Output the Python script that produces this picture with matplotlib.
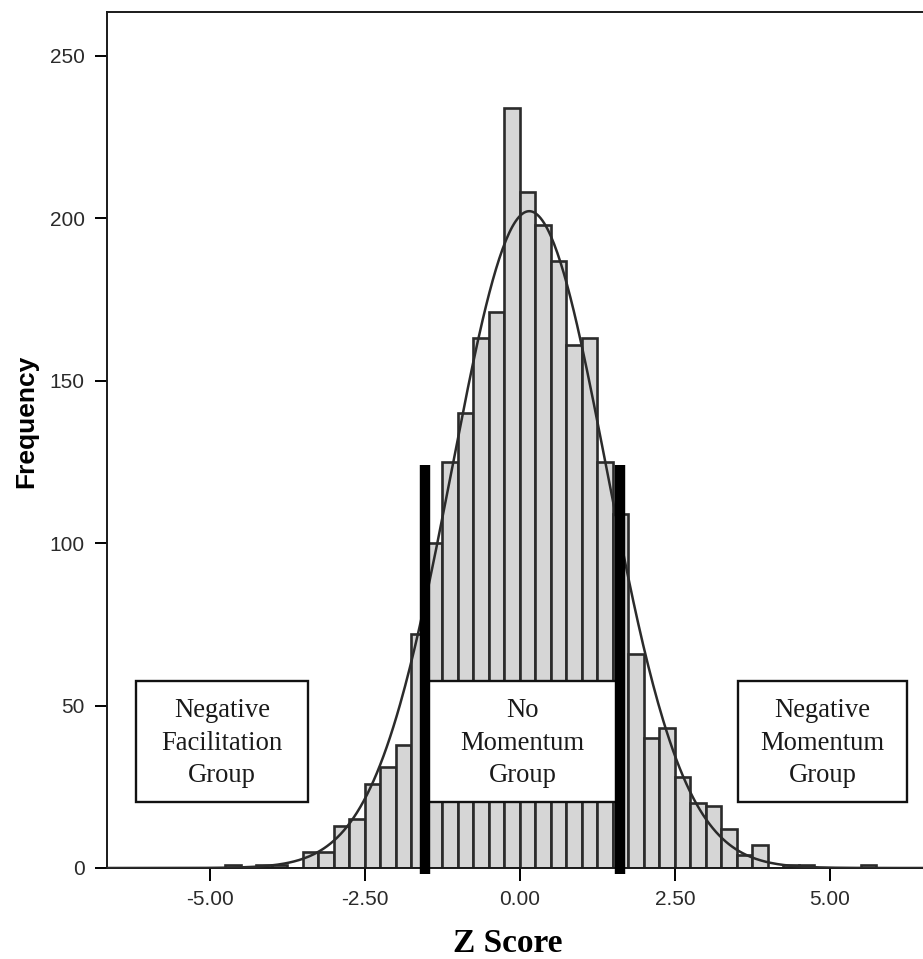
import numpy as np
import matplotlib
matplotlib.use("Agg")
import matplotlib.pyplot as plt
from matplotlib.patches import Rectangle

# histogram of z scores, bins of 0.25 starting at -4.75
bin_starts = np.arange(-4.75, 5.75, 0.25)
counts = [1, 0, 1, 1, 0, 5, 5, 13, 15, 26,
          31, 38, 72, 100, 125, 140, 163, 171, 234, 208,
          198, 187, 161, 163, 125, 109, 66, 40, 43, 28,
          20, 19, 12, 4, 7, 0, 1, 1, 0, 0,
          0, 1]
bin_width = 0.25

# fitted normal curve
curve_mean = 0.15
curve_sd = 1.25

# cut-offs for the groups
cut_low = -1.53
cut_high = 1.61
cut_top = 124

x_ticks = [-5.0, -2.5, 0.0, 2.5, 5.0]
y_ticks = [0, 50, 100, 150, 200, 250]

groups = ["Negative\nFacilitation\nGroup", "No\nMomentum\nGroup", "Negative\nMomentum\nGroup"]
group_x = [(-6.19, -3.42), (-1.50, 1.58), (3.52, 6.24)]
group_y = (20.3, 57.5)

fig = plt.figure(figsize=(9.23, 9.59), dpi=100)
ax = fig.add_axes([0.116, 0.0949, 0.8947, 0.8926])

ax.bar(bin_starts, counts, width=bin_width, align="edge",
       color="#d6d6d6", edgecolor="#2b2b2b", linewidth=1.9, zorder=2)

n_total = sum(counts)
xs = np.linspace(-6.66, 6.66, 500)
ys = n_total * bin_width / (curve_sd * np.sqrt(2 * np.pi)) * np.exp(-(xs - curve_mean) ** 2 / (2 * curve_sd ** 2))
ax.plot(xs, ys, color="#2b2b2b", linewidth=1.8, zorder=3)

for gx, label in zip(group_x, groups):
    rect = Rectangle((gx[0], group_y[0]), gx[1] - gx[0], group_y[1] - group_y[0],
                     facecolor="white", edgecolor="#111111", linewidth=1.7, zorder=4)
    ax.add_patch(rect)
    ax.text((gx[0] + gx[1]) / 2, (group_y[0] + group_y[1]) / 2 - 0.5, label,
            ha="center", va="center", fontsize=19.2, family="Liberation Serif",
            color="#1a1a1a", linespacing=1.4, zorder=5)

for cx in [cut_low, cut_high]:
    ax.plot([cx, cx], [-1.7, cut_top], color="black", linewidth=7.5,
            solid_capstyle="butt", zorder=6, clip_on=False)

ax.set_xlim(-6.66, 6.66)
ax.set_ylim(0, 263.5)
ax.set_xticks(x_ticks)
ax.set_xticklabels(["%.2f" % v for v in x_ticks])
ax.set_yticks(y_ticks)
ax.tick_params(direction="out", length=9, width=1.4, labelsize=15,
               labelcolor="#2a2a2a", pad=7)
for s in ax.spines.values():
    s.set_linewidth(1.4)
    s.set_color("#1a1a1a")
ax.spines["right"].set_visible(False)
for lab in ax.get_xticklabels() + ax.get_yticklabels():
    lab.set_family("Liberation Sans")

ax.set_ylabel("Frequency", fontsize=19, fontweight="bold", family="Liberation Sans")
ax.yaxis.set_label_coords(-0.083, 0.522)
ax.set_xlabel("Z Score", fontsize=24, fontweight="bold", family="Liberation Serif")
ax.xaxis.set_label_coords(0.485, -0.07)

fig.savefig("out.png", dpi=100)
